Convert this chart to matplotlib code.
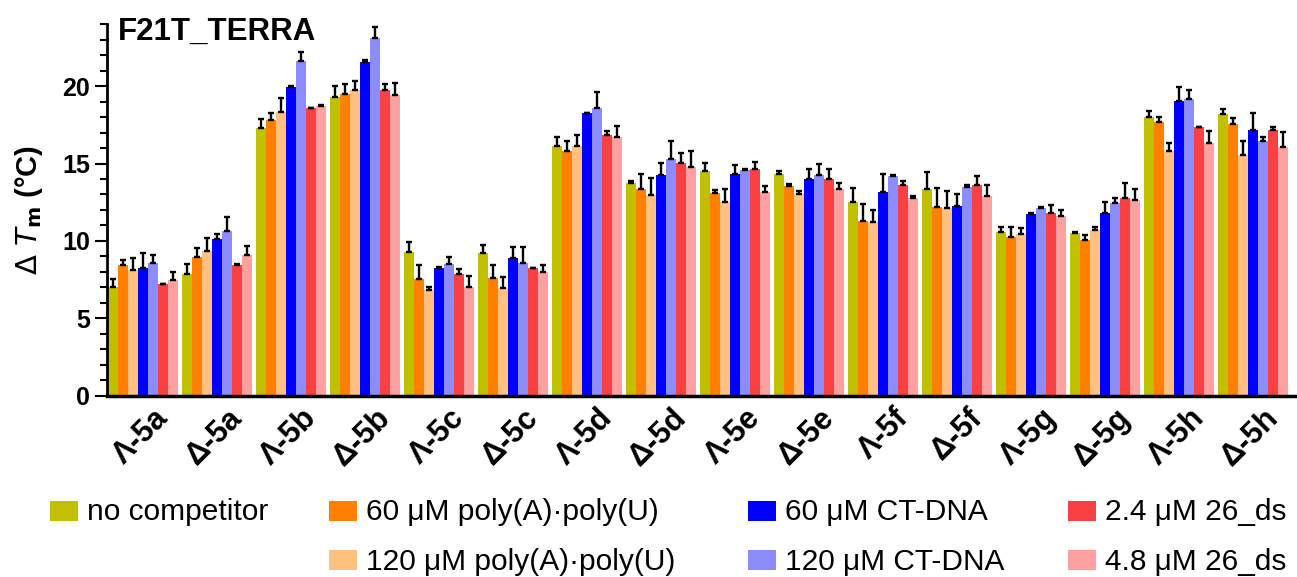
import numpy as np
import matplotlib
matplotlib.use("Agg")
import matplotlib.pyplot as plt
from matplotlib.patches import Rectangle
from matplotlib.ticker import MultipleLocator

# ============================================================
# DATA
# ============================================================

groups = ["Λ-5a", "Δ-5a", "Λ-5b", "Δ-5b", "Λ-5c", "Δ-5c", "Λ-5d", "Δ-5d",
          "Λ-5e", "Δ-5e", "Λ-5f", "Δ-5f", "Λ-5g", "Δ-5g", "Λ-5h", "Δ-5h"]

series_labels = [
    "no competitor",
    "60 μM poly(A)·poly(U)",
    "120 μM poly(A)·poly(U)",
    "60 μM CT-DNA",
    "120 μM CT-DNA",
    "2.4 μM 26_ds",
    "4.8 μM 26_ds",
]

colors = ["#C0C000", "#FF8000", "#FFC080", "#0000FF",
          "#8C8CFF", "#F94144", "#FFA0A0"]

no_comp = [7.05, 7.87, 17.27, 19.30, 9.30, 9.20, 16.13, 13.76,
           14.54, 14.32, 12.54, 13.33, 10.60, 10.54, 18.00, 18.17]
no_comp_err = [0.50, 0.65, 0.58, 0.69, 0.65, 0.54, 0.60, 0.13,
               0.47, 0.20, 0.88, 1.10, 0.32, 0.05, 0.39, 0.34]

polyAU_60 = [8.45, 8.95, 17.80, 19.50, 7.53, 7.60, 15.83, 13.33,
             13.12, 13.55, 11.31, 12.20, 10.24, 10.06, 17.68, 17.55]
polyAU_60_err = [0.30, 0.60, 0.43, 0.60, 0.92, 0.85, 0.60, 1.00,
                 0.20, 0.10, 1.10, 1.20, 0.69, 0.32, 0.34, 0.39]

polyAU_120 = [8.10, 9.37, 18.34, 19.74, 6.84, 6.95, 16.15, 12.97,
              12.54, 13.00, 11.25, 12.10, 10.45, 10.70, 15.83, 15.55]
polyAU_120_err = [0.80, 0.85, 0.86, 0.60, 0.20, 0.70, 0.67, 1.10,
                  0.80, 0.25, 0.75, 1.10, 0.37, 0.20, 0.52, 0.92]

ct_60 = [8.25, 10.10, 19.95, 21.57, 8.24, 8.92, 18.24, 14.26,
         14.32, 13.98, 13.14, 12.27, 11.74, 11.83, 19.05, 17.16]
ct_60_err = [1.00, 0.35, 0.05, 0.10, 0.10, 0.70, 0.05, 0.75,
             0.58, 0.65, 1.18, 0.75, 0.05, 0.69, 0.90, 1.07]

ct_120 = [8.60, 10.67, 21.60, 23.10, 8.50, 8.60, 18.56, 15.27,
          14.58, 14.26, 14.20, 13.50, 12.15, 12.43, 19.14, 16.45]
ct_120_err = [0.50, 0.85, 0.60, 0.70, 0.45, 1.00, 1.07, 1.18,
              0.05, 0.69, 0.05, 0.10, 0.05, 0.37, 0.60, 0.28]

ds_24 = [7.20, 8.45, 18.56, 19.74, 7.90, 8.24, 16.84, 15.05,
         14.62, 14.02, 13.60, 13.60, 11.83, 12.75, 17.33, 17.16]
ds_24_err = [0.05, 0.05, 0.05, 0.39, 0.30, 0.05, 0.28, 0.65,
             0.50, 0.60, 0.26, 0.60, 0.47, 0.97, 0.05, 0.17]

ds_48 = [7.50, 9.10, 18.70, 19.40, 7.00, 8.00, 16.73, 14.75,
         13.14, 13.33, 12.75, 12.90, 11.63, 12.65, 16.34, 16.04]
ds_48_err = [0.50, 0.60, 0.10, 0.80, 0.75, 0.45, 0.69, 1.06,
             0.40, 0.39, 0.15, 0.70, 0.37, 0.69, 0.77, 1.00]

values = [no_comp, polyAU_60, polyAU_120, ct_60, ct_120, ds_24, ds_48]
errors = [no_comp_err, polyAU_60_err, polyAU_120_err, ct_60_err,
          ct_120_err, ds_24_err, ds_48_err]

# ============================================================
# PLOT
# ============================================================

plt.rcParams["font.family"] = ["Liberation Sans", "DejaVu Sans"]

W, H = 1297, 577

fig = plt.figure(figsize=(W / 100, H / 100), dpi=100)
ax = fig.add_axes([0.0825, 0.3137, 0.9175, 0.6447])

n_series = len(values)
width = 0.135
x = np.arange(len(groups))

for k in range(n_series):

    offs = (k - (n_series - 1) / 2) * width

    err = np.array(errors[k])

    ax.bar(
        x + offs,
        values[k],
        width=width,
        color=colors[k],
        linewidth=0,
        label=series_labels[k],
    )

    ax.errorbar(
        x + offs,
        values[k],
        yerr=[np.zeros_like(err), err],
        fmt="none",
        ecolor="black",
        elinewidth=1.7,
        capsize=2.0,
        capthick=1.7,
    )

ax.set_xlim(-0.487, 15.59)
ax.set_ylim(0, 24)

ax.spines["top"].set_visible(False)
ax.spines["right"].set_visible(False)
ax.spines["left"].set_linewidth(2)
ax.spines["bottom"].set_linewidth(2.5)

ax.yaxis.set_major_locator(MultipleLocator(5))
ax.yaxis.set_minor_locator(MultipleLocator(1))
ax.set_yticks([0, 5, 10, 15, 20])

ax.tick_params(axis="y", which="major", length=9, width=1.5,
               labelsize=18, pad=3)
ax.tick_params(axis="y", which="minor", length=5, width=1.5)
ax.tick_params(axis="x", length=0, pad=5)

for lab in ax.get_yticklabels():
    lab.set_fontweight("bold")

ax.set_xticks(x + 0.14)
ax.set_xticklabels(groups, rotation=45, ha="right",
                   rotation_mode="anchor", fontsize=22,
                   fontweight="bold")

ax.set_ylabel(r"$\Delta\ \mathbf{\mathit{T}}_\mathbf{m}$ (°C)",
              fontsize=21, fontweight="bold", labelpad=4)
ax.yaxis.set_label_coords(-0.052, 0.5)

ax.text(0.009, 1.02, "F21T_TERRA", transform=ax.transAxes,
        fontsize=22.5, fontweight="bold", va="top", ha="left")

# ============================================================
# LEGEND (drawn as figure patches and texts)
# ============================================================

legend_slots = [
    (0, 50, 501),
    (1, 329, 501),
    (2, 329, 550),
    (3, 748, 501),
    (4, 748, 550),
    (5, 1068, 501),
    (6, 1068, 550),
]

for k, px, py in legend_slots:

    fig.add_artist(
        Rectangle(
            (px / W, 1 - (py + 20) / H),
            28 / W,
            20 / H,
            transform=fig.transFigure,
            facecolor=colors[k],
            edgecolor="none",
        )
    )

    fig.text(
        (px + 37) / W,
        1 - (py + 19.5) / H,
        series_labels[k],
        fontsize=21.5,
        va="baseline",
        ha="left",
    )

fig.savefig("out.png", dpi=100)
